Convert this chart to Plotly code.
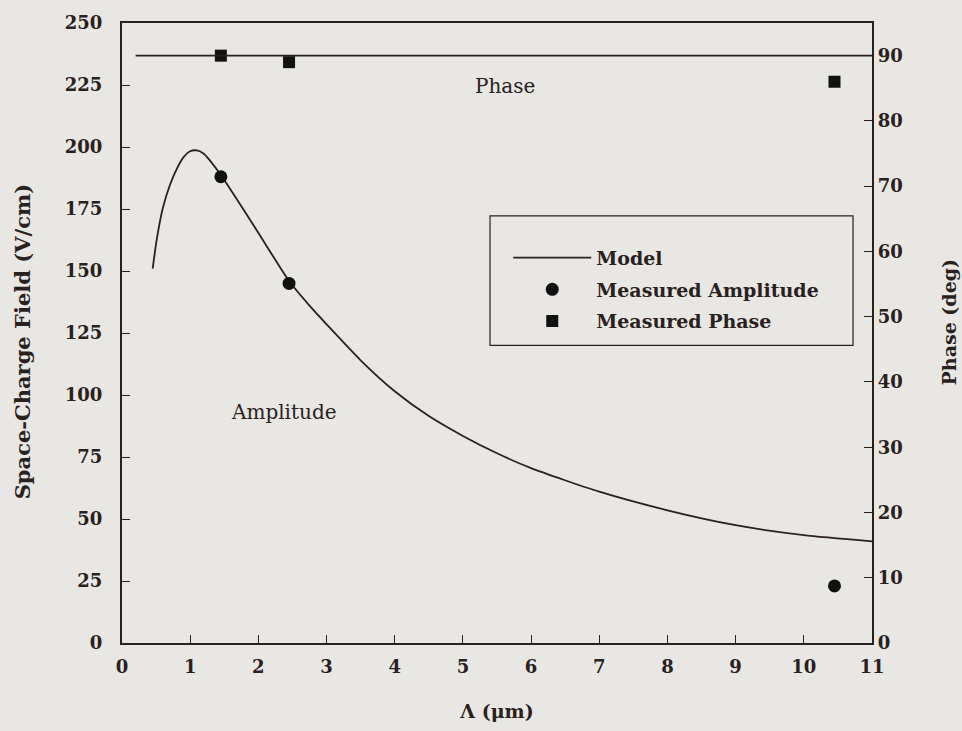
import plotly.graph_objects as go

# Grating period (um) and modelled space-charge field amplitude (V/cm)
model_period = [0.45, 0.5, 0.55, 0.6, 0.7, 0.8, 0.9, 1.0, 1.1, 1.2, 1.3, 1.45,
                1.8, 2.1, 2.45, 2.8, 3.0, 3.5, 4.0, 4.5, 5.0, 5.5, 6.0, 7.0,
                8.0, 9.0, 10.0, 11.0]
model_amplitude = [151, 161, 169, 175.5, 184.5, 191, 195.8, 198.3, 198.6, 197.3, 194.2,
                   188.7, 174, 161, 146, 134.5, 128.5, 114, 101.5, 91.5, 83.5, 76.5,
                   70.5, 61, 53.5, 47.5, 43.5, 41]

# Modelled phase (deg)
model_phase_period = [0.2, 11.0]
model_phase = [90, 90]

# Measurements
meas_period = [1.45, 2.45, 10.45]
meas_amplitude = [188, 145, 23]
meas_phase = [90, 89, 86]

x_ticks = list(range(0, 12))
amp_ticks = [0, 25, 50, 75, 100, 125, 150, 175, 200, 225, 250]
phase_ticks = [0, 10, 20, 30, 40, 50, 60, 70, 80, 90]

INK = "#2a201d"
PAPER = "#e8e7e3"
SERIF = "DejaVu Serif"

fig = go.Figure()

fig.add_trace(go.Scatter(
    x=model_period, y=model_amplitude, mode="lines", name="Model",
    line=dict(color=INK, width=1.8, shape="spline", smoothing=0.6),
    legendgroup="a", showlegend=True,
))
fig.add_trace(go.Scatter(
    x=meas_period, y=meas_amplitude, mode="markers", name="Measured Amplitude",
    marker=dict(symbol="circle", size=13, color="#111"),
    legendgroup="b",
))
fig.add_trace(go.Scatter(
    x=meas_period, y=meas_phase, mode="markers", name="Measured Phase",
    marker=dict(symbol="square", size=12, color="#111"),
    yaxis="y2", legendgroup="c",
))
fig.add_trace(go.Scatter(
    x=model_phase_period, y=model_phase, mode="lines", name="Model",
    line=dict(color=INK, width=1.8), yaxis="y2",
    legendgroup="a", showlegend=False,
))

axis_common = dict(
    showline=True, linecolor=INK, linewidth=2.2, showgrid=False, zeroline=False,
    ticks="inside", ticklen=8, tickwidth=1.3, tickcolor=INK,
    tickfont=dict(family=SERIF, size=18, color=INK, weight="bold"),
)

title_font = dict(family=SERIF, size=21, color=INK, weight="bold")

fig.update_layout(
    width=962, height=731,
    margin=dict(l=122, r=90, t=17, b=83),
    paper_bgcolor=PAPER, plot_bgcolor=PAPER,
    font=dict(family=SERIF, color=INK),
    xaxis=dict(range=[0, 11], tickvals=x_ticks, mirror=True, ticklabelstandoff=6,
               **axis_common,
               title=dict(text="Λ (μm)", font=dict(family=SERIF, size=19, color=INK,
                                                   weight="bold"), standoff=29)),
    yaxis=dict(range=[0, 250], tickvals=amp_ticks, ticklabelstandoff=14, **axis_common),
    yaxis2=dict(range=[0, 95], tickvals=phase_ticks, overlaying="y", side="right",
                **axis_common),
    showlegend=True,
    legend=dict(x=0.515, y=0.652, xanchor="left", yanchor="top",
                bgcolor="rgba(0,0,0,0)", borderwidth=0,
                font=dict(family=SERIF, size=19, color=INK, weight="bold"),
                traceorder="grouped", tracegroupgap=4, itemwidth=78),
    shapes=[dict(type="rect", xref="paper", yref="paper",
                 x0=0.4907, x1=0.9747, y0=0.480, y1=0.689,
                 line=dict(color=INK, width=1.2), fillcolor="rgba(0,0,0,0)")],
    annotations=[
        dict(x=5.62, y=224.6, xref="x", yref="y", text="Phase", showarrow=False,
             font=dict(family=SERIF, size=20, color=INK)),
        dict(x=2.38, y=93, xref="x", yref="y", text="Amplitude", showarrow=False,
             font=dict(family=SERIF, size=20, color=INK)),
        dict(x=0.0, y=0.485, xref="paper", yref="paper", xshift=-100, xanchor="center",
             yanchor="middle", text="Space-Charge Field (V/cm)", textangle=-90,
             showarrow=False, font=title_font),
        dict(x=1.0, y=0.517, xref="paper", yref="paper", xshift=77, xanchor="center",
             yanchor="middle", text="Phase (deg)", textangle=-90, showarrow=False,
             font=dict(family=SERIF, size=19, color=INK, weight="bold")),
    ],
)

fig.write_html("out.html")
